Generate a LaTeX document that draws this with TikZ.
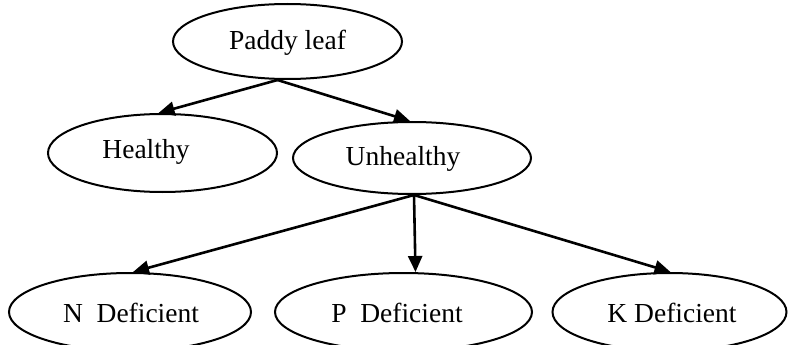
\documentclass[tikz,border=0pt]{standalone}
\usepackage{fontspec}
\setmainfont{Liberation Serif}
\usetikzlibrary{shapes.geometric,arrows.meta}
\begin{document}
\begin{tikzpicture}[x=1pt,y=-1pt,
  oval/.style={ellipse,draw,line width=2pt,inner sep=0pt,fill=white},
  txt/.style={font=\fontsize{27.5}{31}\selectfont},
  conn/.style={line width=2.6pt,-{Triangle[length=16pt,width=14pt]}}]
\useasboundingbox (0,0) rectangle (788,345);
\node[oval,minimum width=229pt,minimum height=75pt] (pl) at (287.5,41.5) {};
\node[txt] (plt) at (287.5,43) {Paddy leaf};
\node[oval,minimum width=229pt,minimum height=78pt] (h) at (162.5,153) {};
\node[txt] (ht) at (146,152) {Healthy};
\node[oval,minimum width=238pt,minimum height=72pt] (u) at (412,158) {};
\node[txt] (ut) at (403,159) {Unhealthy};
\node[oval,minimum width=242pt,minimum height=78pt] (n) at (130,312) {};
\node[txt] (nt) at (131,313) {N\ \ Deficient};
\node[oval,minimum width=257pt,minimum height=78pt] (p) at (403.5,312) {};
\node[txt] (pt) at (397,313) {P\ \ Deficient};
\node[oval,minimum width=234pt,minimum height=78pt] (k) at (669.5,312) {};
\node[txt] (kt) at (672,313) {K Deficient};
\draw[conn] ([xshift=-10pt]pl.south) -- ([xshift=-4pt]h.north);
\draw[conn] ([xshift=-10pt]pl.south) -- ([xshift=-2pt]u.north);
\draw[conn] ([xshift=2pt]u.south) -- ([xshift=3pt]n.north);
\draw[conn] ([xshift=2pt]u.south) -- ([xshift=12pt]p.north);
\draw[conn] ([xshift=2pt]u.south) -- ([xshift=1pt]k.north);
\end{tikzpicture}
\end{document}
